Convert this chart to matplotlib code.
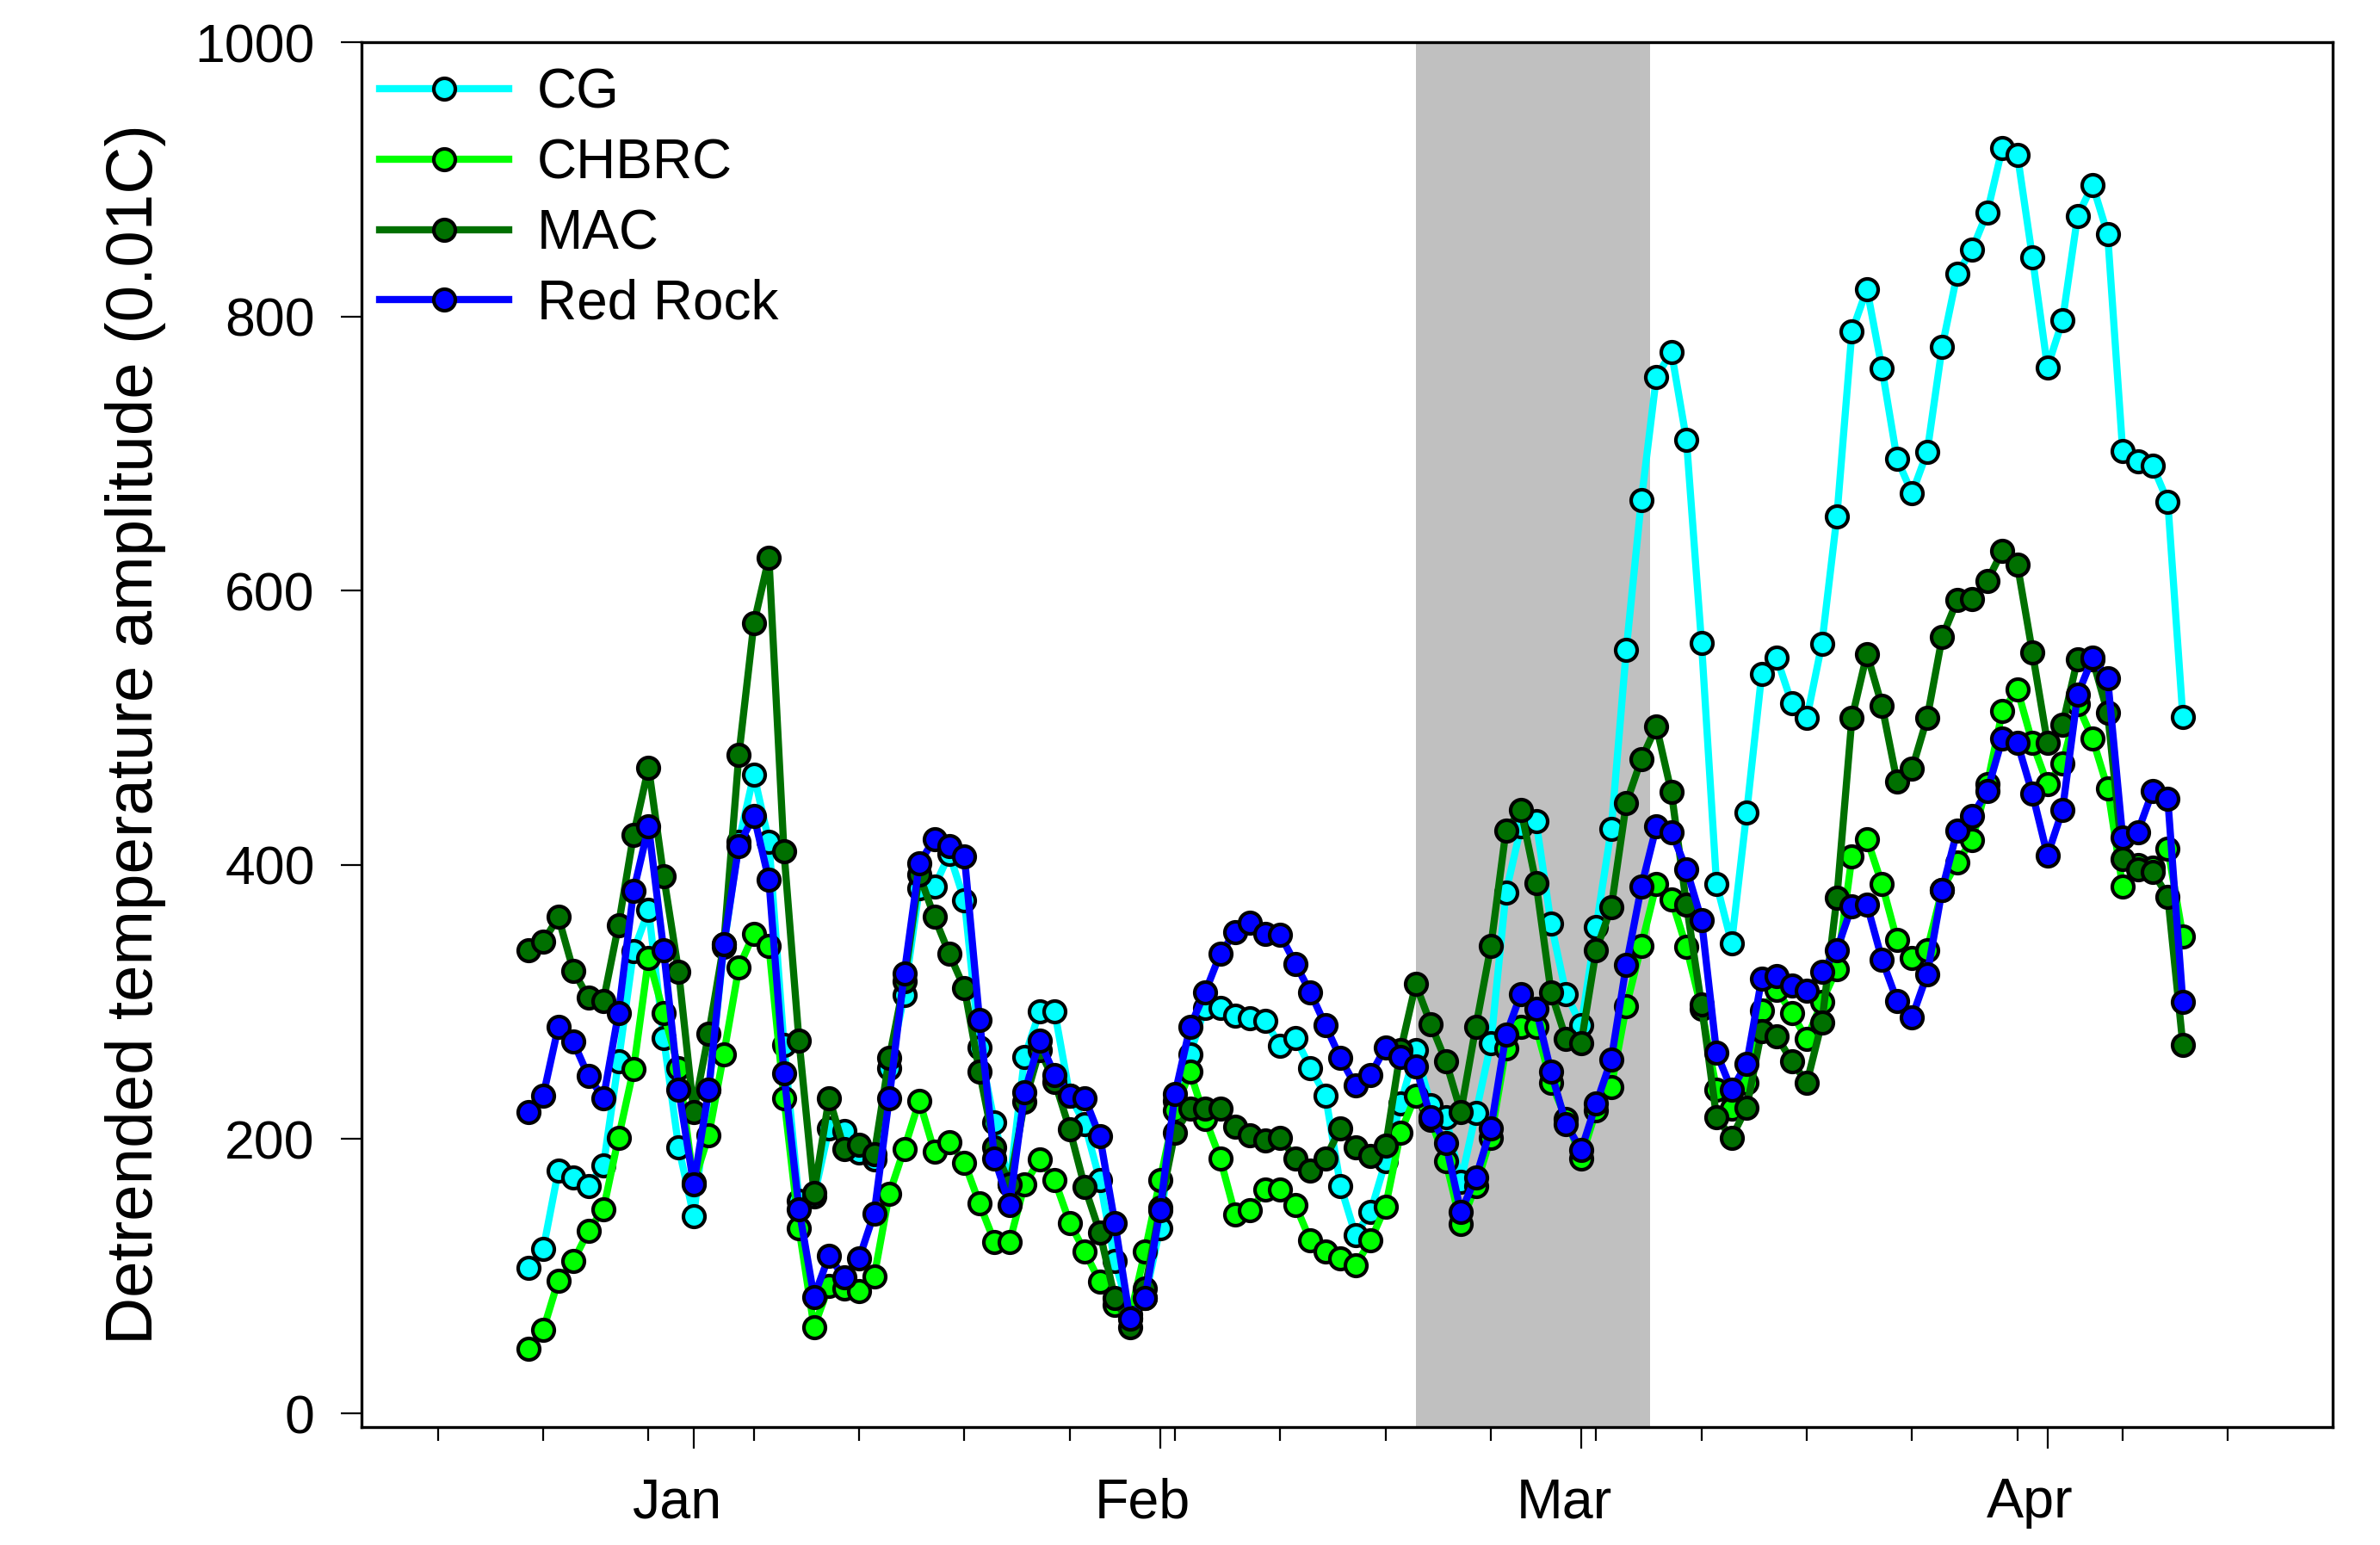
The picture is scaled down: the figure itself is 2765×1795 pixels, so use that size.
import numpy as np
import matplotlib
matplotlib.use("Agg")
import matplotlib.pyplot as plt
import matplotlib.dates as mdates
from matplotlib.transforms import ScaledTranslation

plt.rcParams['font.family'] = ['Liberation Sans', 'DejaVu Sans']

# daily values, 21 Dec 2014 .. 10 Apr 2015
start_date = np.datetime64('2014-12-21')
shade_start = np.datetime64('2015-02-18T01')
shade_end = np.datetime64('2015-03-05T14')

cg = [106, 120, 177, 172, 166, 181, 257, 337, 367, 274, 194,
      144, 236, 340, 417, 466, 417, 269, 155, 158, 208, 206, 190, 185, 252,
      305, 383, 384, 408, 374, 267, 212, 167, 260, 293, 293, 232, 211, 170,
      111, 72, 84, 135, 228, 262, 296, 296, 290, 288, 286, 268, 274, 252,
      232, 166, 130, 147, 184, 226, 265, 225, 216, 169, 219, 270, 380, 428,
      432, 357, 306, 283, 355, 426, 557, 666, 756, 774, 710, 562, 386, 343,
      438, 539, 551, 518, 507, 561, 654, 789, 820, 762, 696, 671, 701, 778,
      831, 849, 876, 923, 918, 843, 763, 797, 873, 896, 860, 702, 694, 691,
      665, 508]
chbrc = [47, 61, 97, 111, 133, 149, 201, 251, 332, 292, 252,
         168, 203, 262, 325, 350, 341, 230, 135, 63, 93, 91, 89, 100, 160,
         193, 228, 191, 198, 183, 153, 125, 125, 167, 185, 170, 139, 118, 96,
         79, 70, 118, 170, 221, 249, 215, 186, 145, 148, 163, 163, 152, 126,
         118, 113, 108, 126, 151, 205, 232, 214, 184, 138, 166, 201, 266, 282,
         282, 241, 215, 186, 221, 238, 297, 341, 386, 375, 340, 295, 236, 222,
         241, 294, 309, 292, 273, 300, 324, 406, 419, 386, 345, 332, 338, 382,
         402, 418, 459, 512, 528, 489, 459, 474, 517, 492, 456, 384, 400, 398,
         412, 348]
mac = [338, 344, 362, 323, 303, 301, 356, 422, 471, 392, 322,
       220, 277, 342, 480, 576, 624, 410, 272, 161, 230, 193, 196, 189, 259,
       315, 393, 362, 335, 310, 249, 194, 167, 227, 265, 242, 207, 165, 132,
       84, 63, 91, 150, 205, 222, 222, 222, 209, 203, 199, 201, 186, 177,
       186, 208, 194, 188, 195, 265, 313, 284, 257, 220, 282, 341, 425, 440,
       387, 307, 273, 270, 338, 369, 445, 477, 501, 453, 371, 298, 216, 201,
       223, 279, 275, 257, 241, 285, 376, 507, 554, 516, 461, 470, 507, 566,
       593, 594, 607, 629, 619, 555, 489, 502, 550, 550, 511, 404, 397, 395,
       377, 269]
red_rock = [220, 232, 282, 271, 246, 230, 292, 381, 428, 338, 236,
            167, 236, 342, 414, 436, 389, 248, 149, 85, 115, 99, 113, 146, 230,
            321, 401, 419, 414, 406, 287, 186, 152, 234, 272, 247, 232, 230, 202,
            139, 69, 84, 148, 233, 282, 307, 335, 351, 358, 350, 349, 328, 307,
            283, 259, 239, 247, 267, 260, 253, 216, 197, 147, 172, 208, 276, 306,
            295, 249, 211, 192, 226, 258, 327, 384, 428, 424, 397, 360, 263, 236,
            255, 317, 319, 312, 308, 322, 338, 370, 371, 331, 301, 289, 320, 382,
            425, 436, 454, 492, 489, 452, 407, 440, 524, 551, 536, 420, 424, 454,
            448, 300]

series = [("CG", cg, "#00ffff"),
          ("CHBRC", chbrc, "#00ff00"),
          ("MAC", mac, "#007000"),
          ("Red Rock", red_rock, "#0000ff")]

dates = start_date + np.arange(len(cg)).astype('timedelta64[D]')

fig = plt.figure(figsize=(27.65, 17.95), dpi=100)
ax = fig.add_axes([0.1519, 0.0763, 0.8282, 0.8964])

ax.axvspan(shade_start, shade_end, color='#c0c0c0', lw=0, zorder=0)

for name, vals, col in series:
    ax.plot(dates, vals, '-o', color=col, lw=6, ms=18, mfc=col, mec='black',
            mew=3, label=name, zorder=2)

ax.set_ylim(-10, 1000)
ax.set_yticks(np.arange(0, 1001, 200))
ax.set_xlim(np.datetime64('2014-12-09T22'), np.datetime64('2015-04-19T23'))

ax.xaxis.set_major_locator(mdates.MonthLocator())
ax.xaxis.set_major_formatter(mdates.DateFormatter('%b'))
ax.xaxis.set_minor_locator(mdates.WeekdayLocator(byweekday=mdates.MO))

ax.tick_params(axis='y', direction='out', length=17, width=1.6, pad=22,
               labelsize=45)
ax.tick_params(axis='x', which='major', direction='out', length=18, width=1.6,
               pad=24, labelsize=46.5)
ax.tick_params(axis='x', which='minor', direction='out', length=11.5, width=1.6)
ax.tick_params(top=False, right=False)
for lbl in ax.get_xticklabels():
    lbl.set_transform(lbl.get_transform() +
                      ScaledTranslation(-0.2, 0, fig.dpi_scale_trans))

for sp in ax.spines.values():
    sp.set_linewidth(2.4)

ax.set_ylabel("Detrended temperature amplitude (0.01C)", fontsize=55, labelpad=24)

ax.legend(loc='upper left', bbox_to_anchor=(-0.0022, 0.9975), frameon=False,
          fontsize=46, handlelength=2.35, handletextpad=0.52,
          labelspacing=0.34, borderaxespad=0.2, borderpad=0.2)

fig.savefig("out.png", dpi=100)
